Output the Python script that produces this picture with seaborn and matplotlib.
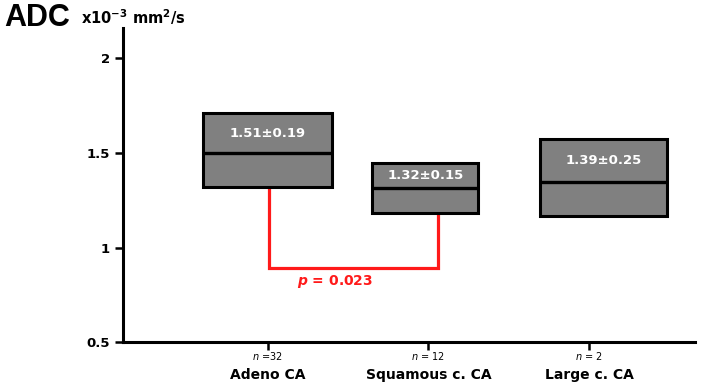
import matplotlib
matplotlib.use("Agg")
import matplotlib.pyplot as plt
import matplotlib.transforms as mtransforms
import seaborn as sns
import pandas as pd

categories = ["Adeno CA", "Squamous c. CA", "Large c. CA"]
n_labels = ["$n$ =32", "$n$ = 12", "$n$ = 2"]
box_low = [1.32, 1.185, 1.165]
box_high = [1.71, 1.445, 1.575]
medians = [1.50, 1.315, 1.345]
mean_sd = ["1.51±0.19", "1.32±0.15", "1.39±0.25"]
box_width = [0.80, 0.66, 0.79]
box_shift = [0.0, -0.02, 0.09]
p_text = "0.023"
yticks = [0.5, 1, 1.5, 2]
ytick_labels = ["0.5", "1", "1.5", "2"]

df = pd.DataFrame({"cat": categories, "low": box_low, "high": box_high,
                   "med": medians, "label": mean_sd, "w": box_width, "shift": box_shift})

sns.set_style("ticks")
plt.rcParams["font.family"] = ["DejaVu Sans"]
plt.rcParams["text.color"] = "black"
plt.rcParams["xtick.color"] = "black"
plt.rcParams["ytick.color"] = "black"
plt.rcParams["axes.labelcolor"] = "black"

fig = plt.figure(figsize=(7.19, 3.91), dpi=100)
ax = fig.add_axes([0.171, 0.125, 0.796, 0.803])

xpos = [i + s for i, s in zip(range(len(df)), df["shift"])]
ax.bar(xpos, df["high"] - df["low"], bottom=df["low"], width=df["w"],
       color="#808080", edgecolor="black", linewidth=2.2, zorder=2)
for x, w, m, lo, hi, lab in zip(xpos, df["w"], df["med"], df["low"], df["high"], df["label"]):
    ax.plot([x - w / 2, x + w / 2], [m, m], color="black", lw=2.4, zorder=3, solid_capstyle="butt")
    ax.text(x, (m + hi) / 2, lab, color="white", fontsize=9.5, fontweight="bold",
            ha="center", va="center", zorder=4)

# significance bracket
ybr = 0.89
x0 = xpos[0] + 0.01
x1 = 1.06
ax.plot([x0, x0, x1, x1], [box_low[0], ybr, ybr, box_low[1]], color="#ff1a1a", lw=2.3,
        zorder=1, solid_joinstyle="miter")
ax.text(0.42, 0.82, r"$\mathbfit{p}$" + " = " + p_text, color="#ff1a1a", fontsize=10,
        fontweight="bold", ha="center", va="center")

ax.set_xlim(-0.90, 2.66)
ax.set_ylim(0.5, 2.16)
ax.set_yticks(yticks)
ax.set_yticklabels(ytick_labels, fontsize=9.5, fontweight="bold", color="black")
ax.set_xticks(range(len(categories)))
ax.set_xticklabels([])
ax.tick_params(axis="both", direction="out", length=6, width=1.8, color="black")
for s in ["left", "bottom"]:
    ax.spines[s].set_linewidth(2.2)
    ax.spines[s].set_color("black")
sns.despine(ax=ax)

trans = mtransforms.blended_transform_factory(ax.transData, ax.transAxes)
for i, (c, n) in enumerate(zip(categories, n_labels)):
    ax.text(i, -0.045, n, transform=trans, ha="center", va="center", fontsize=7, color="black")
    ax.text(i, -0.105, c, transform=trans, ha="center", va="center", fontsize=10,
            fontweight="bold", color="black")

fig.text(0.006, 0.955, "ADC", fontsize=22, fontweight="bold", family="Liberation Sans",
         ha="left", va="center", color="black")
fig.text(0.112, 0.955, r"x10$^{\mathbf{-3}}$ mm$^{\mathbf{2}}$/s", fontsize=10.5,
         fontweight="bold", ha="left", va="center", color="black")

fig.savefig("out.png", dpi=100)
